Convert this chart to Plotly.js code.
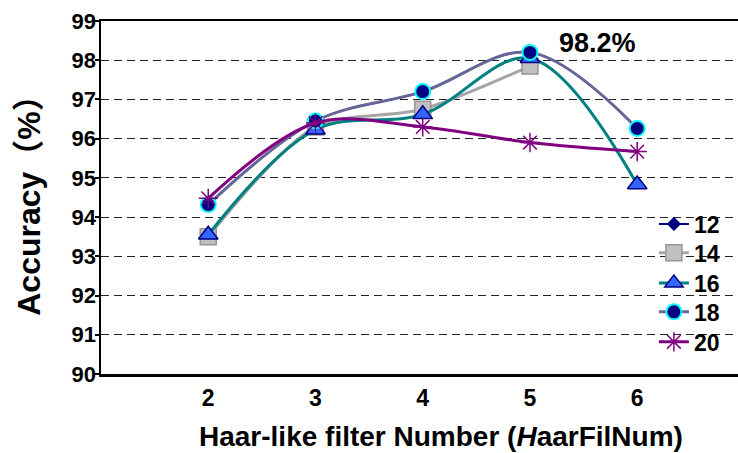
<!DOCTYPE html>
<html>
<head>
<meta charset="utf-8">
<script src="https://cdn.plot.ly/plotly-3.0.1.min.js"></script>
<style>
  html, body { margin: 0; padding: 0; background: #fff; overflow: hidden; }
  #chart { width: 738px; height: 453px; }
</style>
</head>
<body>
<div id="chart"></div>
<script>
// Number of Haar-like filters on the x axis
const filterNum = [2, 3, 4, 5, 6];

// Accuracy (%) for each setting (null = not measured)
const seriesNames = ['12', '14', '16', '18', '20'];
const acc12 = [94.32, 96.45, 97.2, 98.2, 96.26];
const acc14 = [93.5, 96.3, 96.75, 97.85, null];
const acc16 = [93.55, 96.23, 96.62, 98.05, 94.83];
const acc18 = [94.32, 96.45, 97.2, 98.2, 96.26];
const acc20 = [94.48, 96.4, 96.3, 95.9, 95.67];

const yTicks = [90, 91, 92, 93, 94, 95, 96, 97, 98, 99];

const FONT = 'Arial, "Liberation Sans", "Noto Sans CJK SC", sans-serif';

// one legend per series so the entries can be spaced evenly
const legendIds = ['legend', 'legend2', 'legend3', 'legend4', 'legend5'];
const legendY = [0.425, 0.343, 0.258, 0.176, 0.091];

const traces = [
  {
    name: seriesNames[0], x: filterNum, y: acc12, mode: 'lines+markers',
    line: { color: '#000080', width: 2, shape: 'spline', smoothing: 1 },
    marker: { symbol: 'diamond', size: 11, color: '#000080' }
  },
  {
    name: seriesNames[1], x: filterNum, y: acc14, mode: 'lines+markers',
    line: { color: '#A6A6A6', width: 3, shape: 'spline', smoothing: 0.8 },
    marker: { symbol: 'square', size: 16, color: '#C0C0C0', line: { color: '#969696', width: 1.5 } }
  },
  {
    name: seriesNames[2], x: filterNum, y: acc16, mode: 'lines+markers',
    line: { color: '#008080', width: 3, shape: 'spline', smoothing: 1 },
    marker: { symbol: 'triangle-up', size: 17, color: '#3366FF', line: { color: '#000080', width: 1.5 } }
  },
  {
    name: seriesNames[3], x: filterNum, y: acc18, mode: 'lines+markers',
    line: { color: '#666699', width: 3, shape: 'spline', smoothing: 1 },
    marker: { symbol: 'circle', size: 15, color: '#000080', line: { color: '#00FFFF', width: 2 } }
  },
  {
    name: seriesNames[4], x: filterNum, y: acc20, mode: 'lines+markers',
    line: { color: '#800080', width: 3, shape: 'spline', smoothing: 1 },
    marker: { symbol: 'asterisk-open', size: 16, color: '#800080', line: { color: '#800080', width: 1.5 } }
  }
];
traces.forEach((t, i) => { t.legend = legendIds[i]; });

const peak = Math.max(...acc18);
const peakIdx = acc18.indexOf(peak);

const layout = {
  width: 738,
  height: 453,
  margin: { l: 101, r: 0, t: 21, b: 79 },
  paper_bgcolor: '#fff',
  plot_bgcolor: '#fff',
  showlegend: true,
  font: { family: FONT, color: '#000' },
  xaxis: {
    range: [1, 6.94],
    tickvals: filterNum,
    ticktext: filterNum.map(String),
    showgrid: false,
    zeroline: false,
    showline: true,
    mirror: true,
    linecolor: '#000',
    linewidth: 2.5,
    ticks: '',
    tickfont: { family: FONT, size: 23, color: '#000', weight: 'bold' },
    ticklabelstandoff: 2
  },
  yaxis: {
    range: [90, 99],
    tickvals: yTicks,
    showgrid: true,
    gridcolor: '#222',
    gridwidth: 1,
    griddash: '8px,5px',
    zeroline: false,
    showline: true,
    linecolor: '#000',
    linewidth: 2.5,
    ticks: 'outside',
    ticklen: 4,
    tickwidth: 2,
    tickcolor: '#000',
    tickfont: { family: FONT, size: 22, color: '#000', weight: 'bold' },
    ticklabelstandoff: -6,
    title: {
      text: 'Accuracy（%）',
      font: { family: FONT, size: 32, color: '#000', weight: 'bold' },
      standoff: 22
    }
  },
  annotations: [
    {
      xref: 'x', yref: 'y',
      x: filterNum[peakIdx] + 0.63, y: peak + 0.25,
      text: peak.toFixed(1) + '%',
      showarrow: false,
      font: { family: FONT, size: 27, color: '#000', weight: 'bold' }
    },
    {
      xref: 'paper', yref: 'paper',
      x: 0.534, y: -0.178, xanchor: 'center', yanchor: 'middle',
      text: 'Haar-like filter Number (<i>H</i>aarFilNum)',
      showarrow: false,
      font: { family: FONT, size: 28, color: '#000', weight: 'bold' }
    }
  ]
};

legendIds.forEach((id, i) => {
  layout[id] = {
    x: 0.868, xanchor: 'left',
    y: legendY[i], yanchor: 'middle',
    bgcolor: 'rgba(255,255,255,0)',
    borderwidth: 0,
    font: { family: FONT, size: 23, color: '#000', weight: 'bold' }
  };
});

Plotly.newPlot('chart', traces, layout, { displayModeBar: false, staticPlot: true });
</script>
</body>
</html>
